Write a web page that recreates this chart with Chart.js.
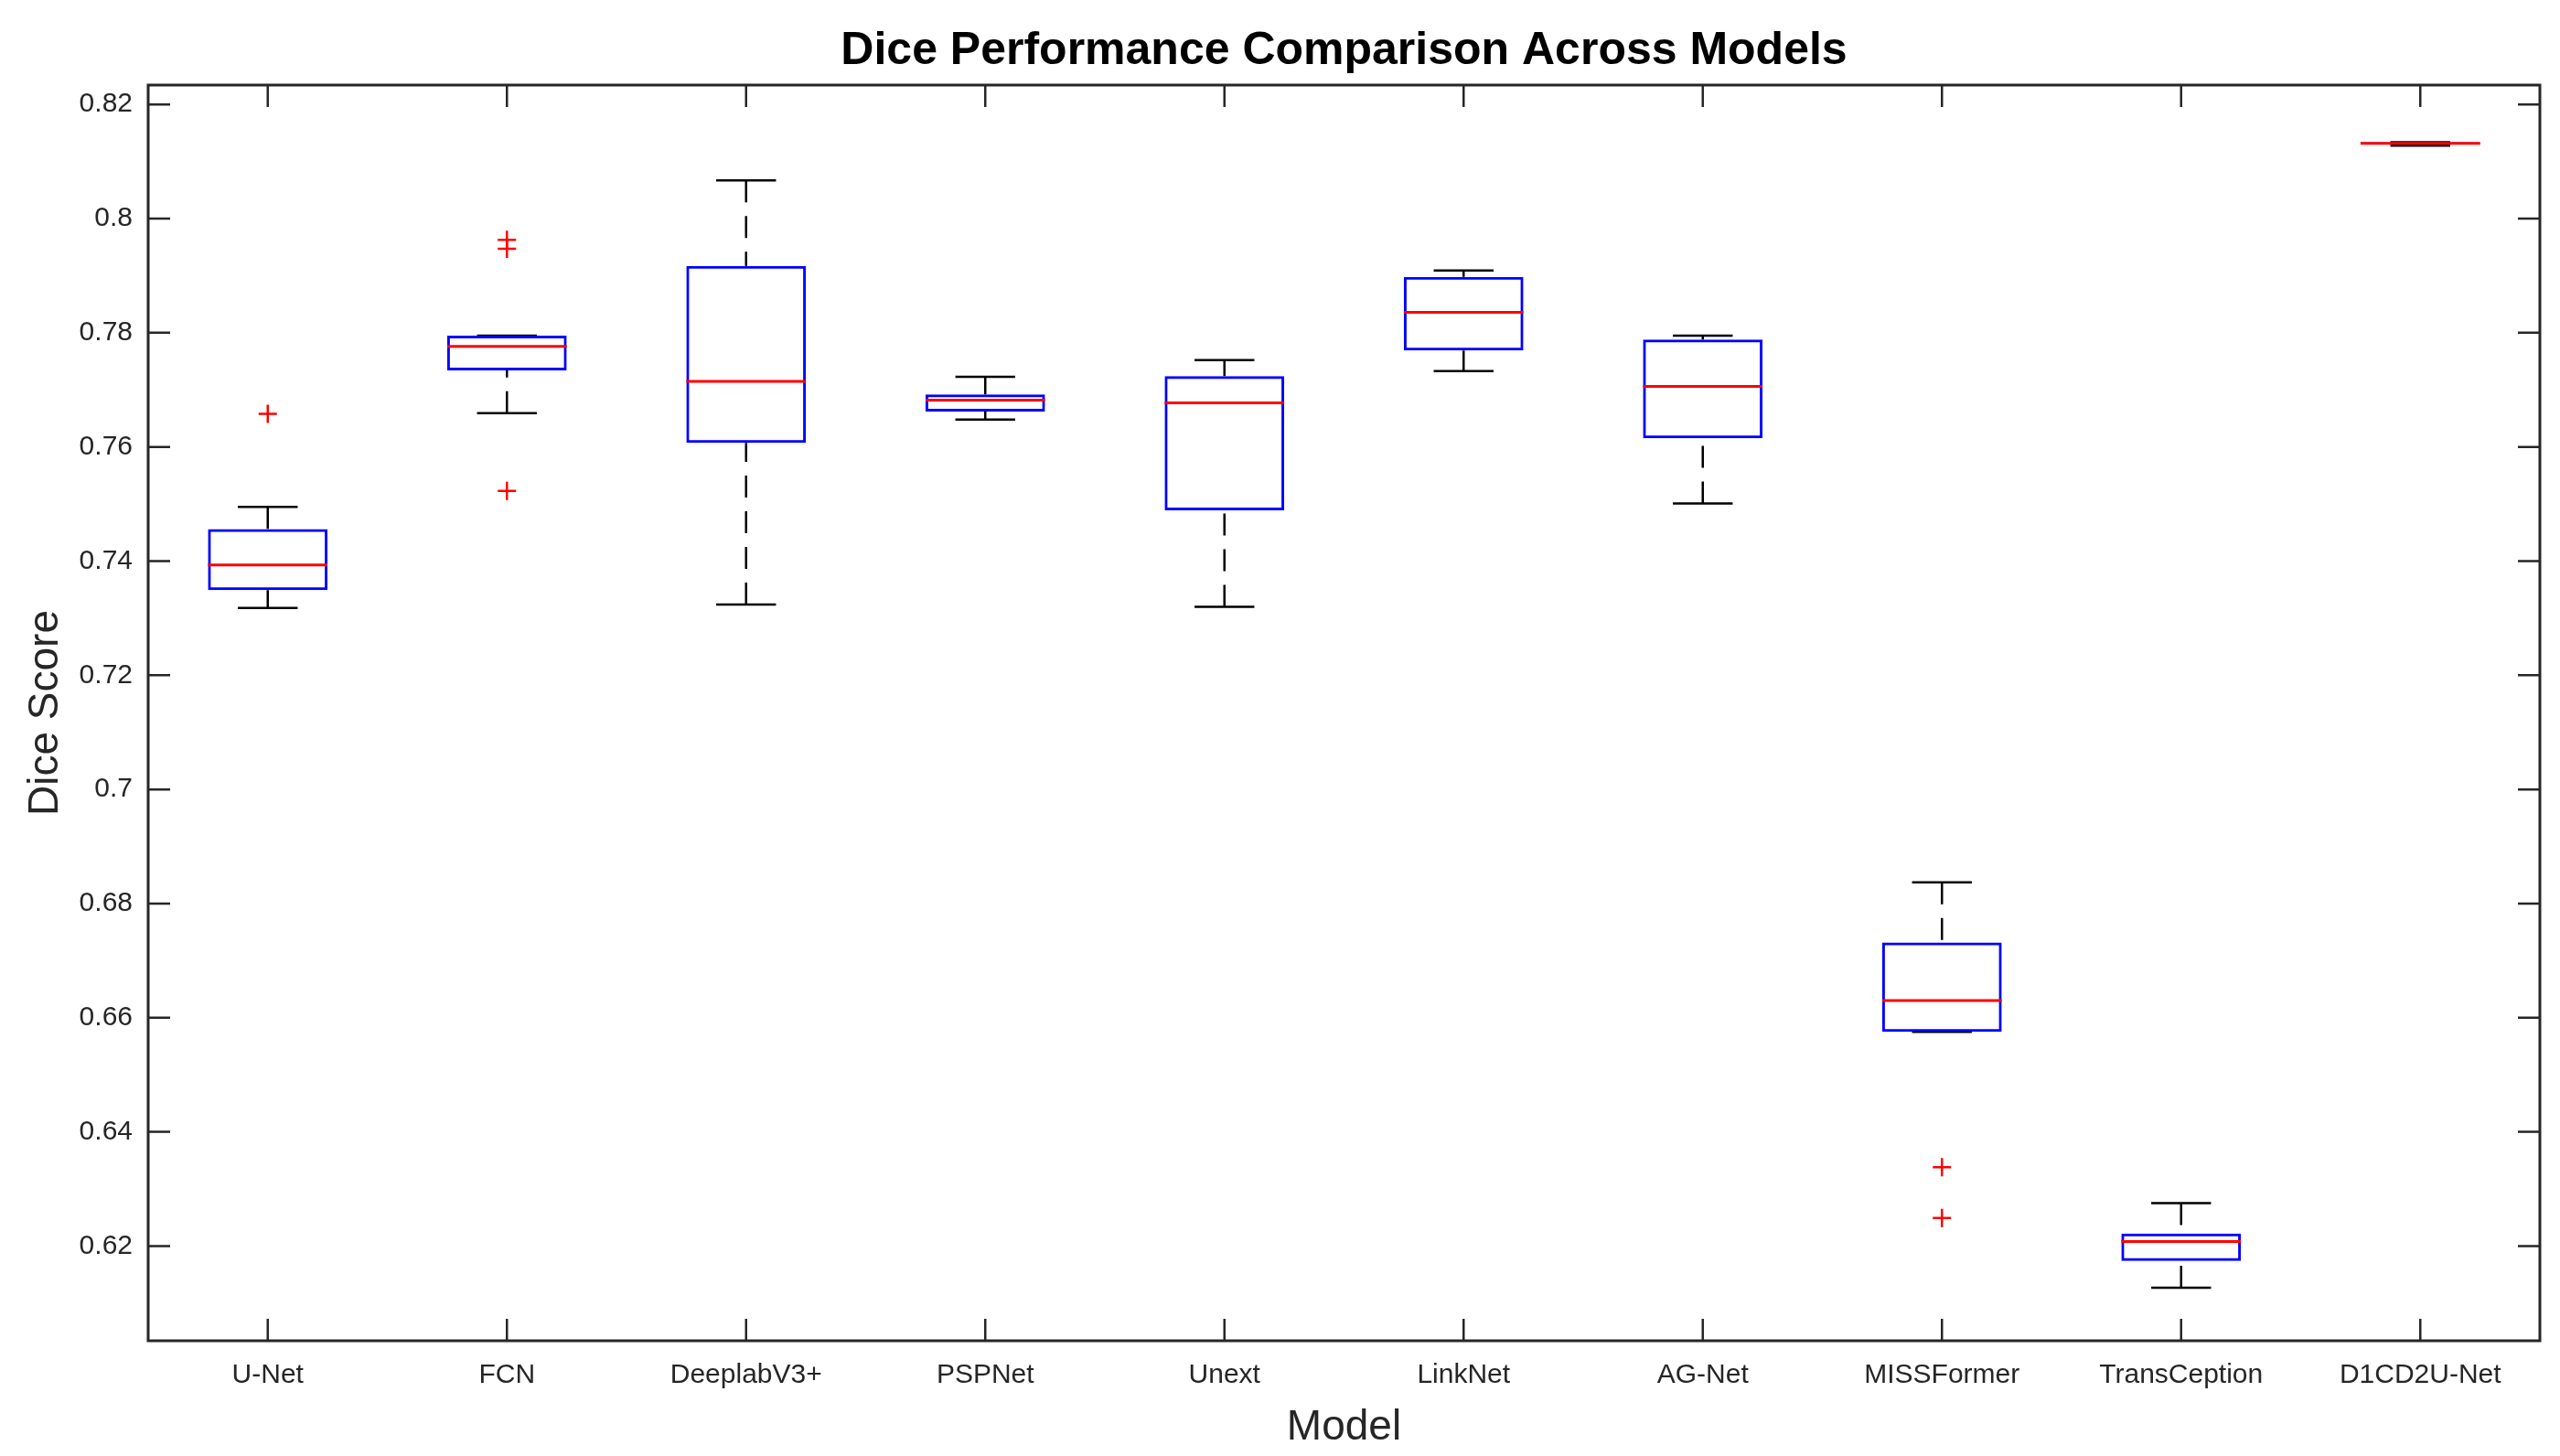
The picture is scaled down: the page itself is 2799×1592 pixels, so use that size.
<!DOCTYPE html>
<html>
<head>
<meta charset="utf-8">
<title>Dice Performance Comparison Across Models</title>
<script src="https://cdn.jsdelivr.net/npm/chart.js@4.4.1/dist/chart.umd.min.js"></script>
<style>
    html, body { margin: 0; padding: 0; background: #ffffff; overflow: hidden; }
    #chart { display: block; }
</style>
</head>
<body>
<canvas id="chart" width="2799" height="1592"></canvas>
<script>
// Values
const chartTitle = 'Dice Performance Comparison Across Models';
const models = ['U-Net', 'FCN', 'DeeplabV3+', 'PSPNet', 'Unext', 'LinkNet', 'AG-Net', 'MISSFormer', 'TransCeption', 'D1CD2U-Net'];
const whiskerLow = [0.7318, 0.7659, 0.7324, 0.7648, 0.7320, 0.7733, 0.7501, 0.6575, 0.6127, 0.8128];
const q1 = [0.7349, 0.7734, 0.7607, 0.7662, 0.7489, 0.7769, 0.7615, 0.6575, 0.6174, 0.8130];
const medians = [0.7393, 0.7776, 0.7715, 0.7682, 0.7677, 0.7836, 0.7706, 0.6630, 0.6208, 0.8132];
const q3 = [0.7456, 0.7795, 0.7917, 0.7692, 0.7724, 0.7898, 0.7788, 0.6732, 0.6222, 0.8134];
const whiskerHigh = [0.7495, 0.7795, 0.8067, 0.7723, 0.7752, 0.7909, 0.7795, 0.6837, 0.6275, 0.8134];
const outlierModels = ['U-Net', 'FCN', 'FCN', 'FCN', 'MISSFormer', 'MISSFormer'];
const outlierValues = [0.7658, 0.7963, 0.7947, 0.7523, 0.6338, 0.6249];
const yTickValues = [0.62, 0.64, 0.66, 0.68, 0.70, 0.72, 0.74, 0.76, 0.78, 0.80, 0.82];

const FONT = '"Liberation Sans", Arial, Helvetica, sans-serif';
const AXIS_COLOR = '#262626';

document.addEventListener('DOMContentLoaded', function() {
    const chartCanvas = document.getElementById('chart');
    const ctx = chartCanvas.getContext('2d');

    const boxPlotPlugin = {
        id: 'boxPlot',
        beforeDatasetsDraw: function(chart) { // whiskers and caps sit behind the boxes
            const x = chart.scales.x;
            const y = chart.scales.y;
            const c = chart.ctx;
            const half = x.getPixelForValue(1) - x.getPixelForValue(0);
            c.save();
            c.strokeStyle = '#000000';
            c.lineWidth = 2.5;
            models.forEach(function(m, i) {
                const px = x.getPixelForValue(i);
                c.setLineDash([24, 15]);
                c.beginPath();
                c.moveTo(px, y.getPixelForValue(whiskerHigh[i]));
                c.lineTo(px, y.getPixelForValue(q3[i]));
                c.moveTo(px, y.getPixelForValue(whiskerLow[i]));
                c.lineTo(px, y.getPixelForValue(q1[i]));
                c.stroke();
                c.setLineDash([]);
                c.beginPath();
                c.moveTo(px - half * 0.125, y.getPixelForValue(whiskerHigh[i]));
                c.lineTo(px + half * 0.125, y.getPixelForValue(whiskerHigh[i]));
                c.moveTo(px - half * 0.125, y.getPixelForValue(whiskerLow[i]));
                c.lineTo(px + half * 0.125, y.getPixelForValue(whiskerLow[i]));
                c.stroke();
            });
            c.restore();
        },
        afterDatasetsDraw: function(chart) {
            const x = chart.scales.x;
            const y = chart.scales.y;
            const c = chart.ctx;
            const area = chart.chartArea;
            const half = x.getPixelForValue(1) - x.getPixelForValue(0);
            c.save();
            // medians
            c.strokeStyle = '#FF0000';
            c.lineWidth = 3;
            models.forEach(function(m, i) {
                const px = x.getPixelForValue(i);
                const py = y.getPixelForValue(medians[i]);
                c.beginPath();
                c.moveTo(px - half * 0.25, py);
                c.lineTo(px + half * 0.25, py);
                c.stroke();
            });
            // axes box with inward ticks on all four sides
            c.strokeStyle = AXIS_COLOR;
            c.lineWidth = 3;
            c.strokeRect(area.left, area.top, area.right - area.left, area.bottom - area.top);
            c.lineWidth = 2.5;
            c.beginPath();
            y.ticks.forEach(function(t) {
                const py = y.getPixelForValue(t.value);
                c.moveTo(area.left, py);
                c.lineTo(area.left + 24, py);
                c.moveTo(area.right, py);
                c.lineTo(area.right - 24, py);
            });
            x.ticks.forEach(function(t, i) {
                const px = x.getPixelForTick(i);
                c.moveTo(px, area.bottom);
                c.lineTo(px, area.bottom - 24);
                c.moveTo(px, area.top);
                c.lineTo(px, area.top + 24);
            });
            c.stroke();
            // title centred over the axes
            c.fillStyle = '#000000';
            c.font = 'bold 50px ' + FONT;
            c.textAlign = 'center';
            c.textBaseline = 'alphabetic';
            c.fillText(chartTitle, (area.left + area.right) / 2, area.top - 23);
            c.restore();
        }
    };

    window.myChart = new Chart(ctx, {
        type: 'bar',
        data: {
            labels: models,
            datasets: [{
                label: 'Box',
                data: models.map(function(m, i) { return [q1[i], q3[i]]; }),
                backgroundColor: 'rgba(0, 0, 0, 0)',
                borderColor: '#0000FF',
                borderWidth: 3,
                borderSkipped: false,
                barPercentage: 0.5,
                categoryPercentage: 1.0
            }, {
                type: 'scatter',
                label: 'Outliers',
                data: outlierModels.map(function(m, i) { return { x: m, y: outlierValues[i] }; }),
                pointStyle: 'cross',
                radius: 10,
                borderColor: '#FF0000',
                backgroundColor: '#FF0000',
                borderWidth: 2.5
            }]
        },
        options: {
            responsive: false,
            devicePixelRatio: 1,
            animation: false,
            events: [],
            layout: { padding: { top: 93, right: 22, bottom: 0, left: 0 } },
            plugins: {
                legend: { display: false },
                title: { display: false },
                tooltip: { enabled: false }
            },
            scales: {
                x: {
                    type: 'category',
                    offset: true,
                    grid: { display: false, drawTicks: false },
                    border: { display: false },
                    ticks: {
                        color: AXIS_COLOR,
                        font: { family: FONT, size: 30 },
                        padding: 20,
                        maxRotation: 0,
                        autoSkip: false
                    },
                    title: {
                        display: true,
                        text: 'Model',
                        color: AXIS_COLOR,
                        font: { family: FONT, size: 46 },
                        padding: { top: 0, bottom: 3 }
                    },
                    afterFit: function(scale) { scale.height = 126; }
                },
                y: {
                    min: 0.6034,
                    max: 0.8234,
                    grid: { display: false, drawTicks: false },
                    border: { display: false },
                    afterBuildTicks: function(scale) {
                        scale.ticks = yTickValues.map(function(v) { return { value: v }; });
                    },
                    ticks: {
                        color: AXIS_COLOR,
                        font: { family: FONT, size: 30 },
                        padding: 17,
                        autoSkip: false,
                        callback: function(v) { return String(Number(v.toFixed(2))); }
                    },
                    title: {
                        display: true,
                        text: 'Dice Score',
                        color: AXIS_COLOR,
                        font: { family: FONT, size: 46 },
                        padding: { top: 23, bottom: 0 }
                    },
                    afterFit: function(scale) { scale.width = 162; }
                }
            }
        },
        plugins: [boxPlotPlugin]
    });
});
</script>
</body>
</html>
